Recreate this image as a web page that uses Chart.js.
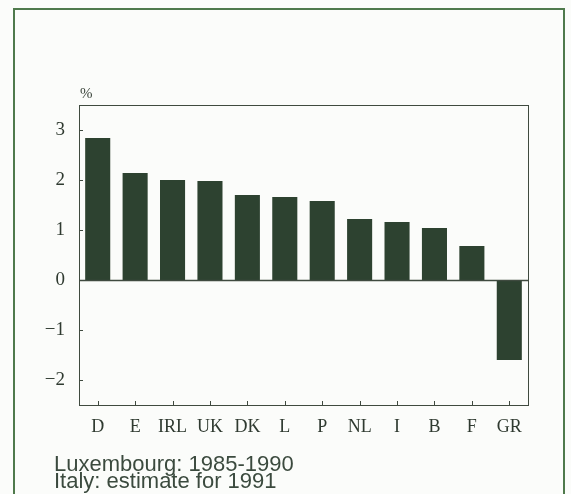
<!DOCTYPE html>
<html>
<head>
<meta charset="utf-8">
<script src="https://cdn.jsdelivr.net/npm/chart.js@4"></script>
<style>
  html, body { margin: 0; padding: 0; background: #fbfcfa; }
  body { width: 571px; height: 494px; position: relative; overflow: hidden; }
  #frame {
    position: absolute; left: 13px; top: 8px; width: 548px; height: 500px;
    border: 2px solid #4f7a4c; border-bottom: none;
  }
  #chart { position: absolute; left: 0; top: 0; }
  #unit {
    position: absolute; left: 80px; top: 85px;
    font: 15px "Liberation Serif", serif; color: #3a443a;
  }
  #note {
    position: absolute; left: 54px; top: 455px;
    font: 22px "Liberation Sans", Arial, sans-serif; line-height: 17px;
    color: #3b4a3e;
  }
</style>
</head>
<body>
<div id="frame"></div>
<canvas id="chart" width="571" height="494"></canvas>
<div id="unit">%</div>
<div id="note">Luxembourg: 1985-1990<br>Italy: estimate for 1991</div>
<script>
const countries = ["D", "E", "IRL", "UK", "DK", "L", "P", "NL", "I", "B", "F", "GR"];
const growth = [2.84, 2.14, 2.0, 1.98, 1.7, 1.66, 1.58, 1.22, 1.16, 1.04, 0.68, -1.6];
const yTicks = [-2, -1, 0, 1, 2, 3];

const lineColor = '#3f4a3f';

// plot frame, zero line and inward tick marks
const framePlugin = {
  id: 'frame',
  afterDatasetsDraw(chart) {
    const { ctx, chartArea: a, scales } = chart;
    ctx.save();
    ctx.strokeStyle = lineColor;
    ctx.lineWidth = 1;
    ctx.strokeRect(a.left + 0.5, a.top + 0.5, a.right - a.left, a.bottom - a.top);
    const y0 = Math.round(scales.y.getPixelForValue(0)) + 0.5;
    ctx.lineWidth = 1.6;
    ctx.beginPath();
    ctx.moveTo(a.left, y0);
    ctx.lineTo(a.right, y0);
    ctx.stroke();
    ctx.lineWidth = 1;
    ctx.beginPath();
    scales.y.ticks.forEach((t, i) => {
      const y = Math.round(scales.y.getPixelForTick(i)) + 0.5;
      ctx.moveTo(a.left, y);
      ctx.lineTo(a.left + 4, y);
    });
    scales.x.ticks.forEach((t, i) => {
      const x = Math.round(scales.x.getPixelForTick(i)) + 0.5;
      ctx.moveTo(x, a.bottom);
      ctx.lineTo(x, a.bottom - 4);
    });
    ctx.stroke();
    ctx.restore();
  }
};

new Chart(document.getElementById('chart').getContext('2d'), {
  type: 'bar',
  data: {
    labels: countries,
    datasets: [{
      data: growth,
      backgroundColor: '#2d4230',
      barPercentage: 0.67,
      categoryPercentage: 1.0
    }]
  },
  options: {
    responsive: false,
    animation: false,
    layout: { padding: { left: 0, top: 105, right: 43, bottom: 59 } },
    plugins: {
      legend: { display: false },
      tooltip: { enabled: false }
    },
    scales: {
      x: {
        offset: true,
        grid: { display: false },
        border: { display: false },
        ticks: {
          color: '#2f3a30',
          padding: 3,
          maxRotation: 0,
          font: { family: 'Liberation Serif', size: 18 }
        },
        afterFit(scale) { scale.height = 30; }
      },
      y: {
        min: -2.5,
        max: 3.5,
        grid: { display: false },
        border: { display: false },
        afterBuildTicks(scale) { scale.ticks = yTicks.map(v => ({ value: v })); },
        ticks: {
          color: '#2f3a30',
          padding: 6,
          font: { family: 'Liberation Serif', size: 19 },
          callback: v => v < 0 ? '\u2212' + Math.abs(v) : String(v)
        },
        afterFit(scale) { scale.width = 79; }
      }
    }
  },
  plugins: [framePlugin]
});
</script>
</body>
</html>
